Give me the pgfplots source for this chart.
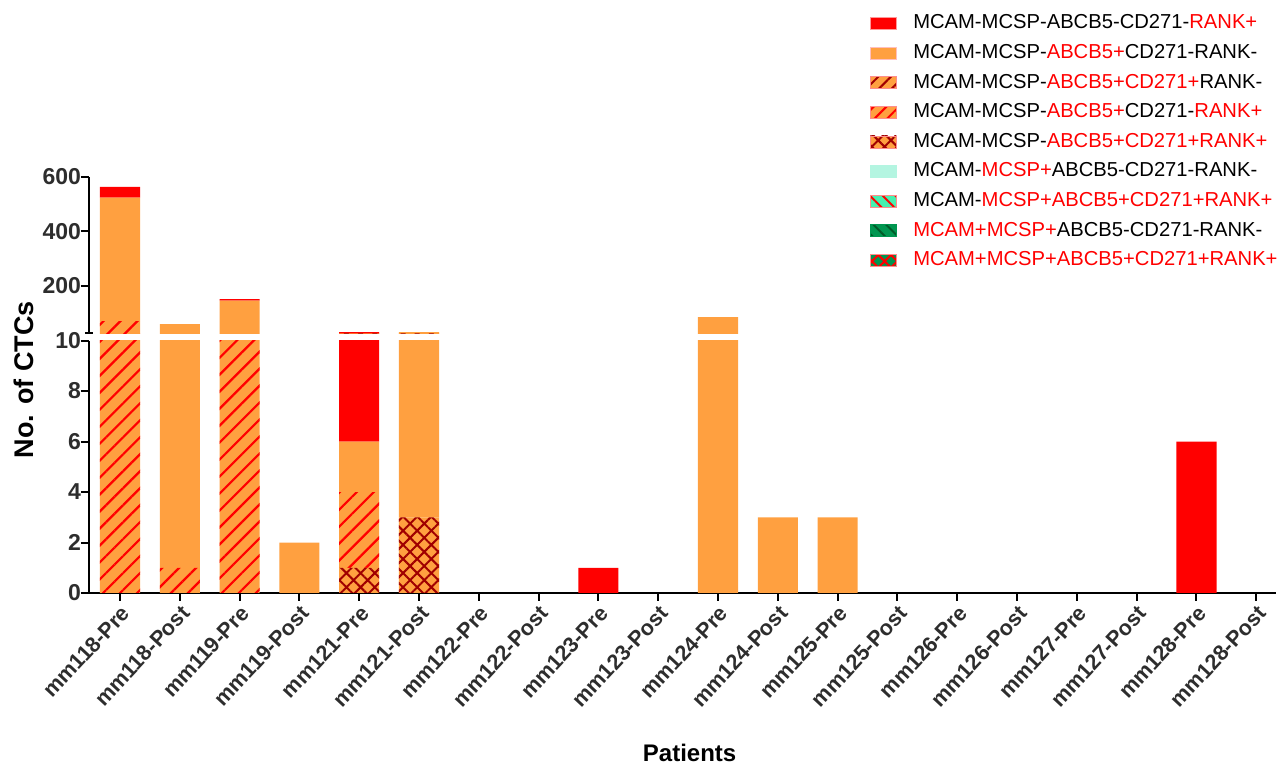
\documentclass[border=0pt]{standalone}
\usepackage{pgfplots}
\usepackage{pgfplotstable}
\pgfplotsset{compat=1.18}
\usetikzlibrary{patterns.meta}
\usepackage{fontspec}
\setmainfont{Liberation Sans}

\definecolor{cOrange}{RGB}{255,160,64}
\definecolor{cRed}{RGB}{255,0,0}
\definecolor{cDark}{RGB}{160,0,0}
\definecolor{cMint}{RGB}{180,245,225}
\definecolor{cMint2}{RGB}{70,240,175}
\definecolor{cGreen}{RGB}{0,150,80}
\definecolor{cGreenDk}{RGB}{0,90,40}
\definecolor{tickgray}{RGB}{45,45,45}

% stacked counts per sample (bottom to top)
\pgfplotstableread{
x cross hatch orange red
0  0 70 453 40
1  0  1  58  0
2  0 20 125  5
3  0  0   2  0
4  1  3   2 23
5  3  0  26  0
6  0  0   0  0
7  0  0   0  0
8  0  0   0  1
9  0  0   0  0
10 0  0  84  0
11 0  0   3  0
12 0  0   3  0
13 0  0   0  0
14 0  0   0  0
15 0  0   0  0
16 0  0   0  0
17 0  0   0  0
18 0  0   0  6
19 0  0   0  0
}\ctcdata

\pgfplotsset{
  redhatch/.style={fill=cOrange,draw=none,postaction={pattern={Lines[angle=45,distance=6pt,line width=1.1pt]},pattern color=cRed}},
  crosshatch/.style={fill=cOrange,draw=none,postaction={pattern={Hatch[angle=45,distance=5pt,line width=1pt]},pattern color=cDark}},
  common/.style={
    scale only axis, width=593.5pt,
    xmin=-0.518, xmax=19.33,
    ybar stacked, bar width=0.67,
    tick style={line width=1pt,black},
    tick align=outside, major tick length=4pt,
    axis line style={line width=1pt},
    /pgf/number format/assume math mode=true,
    yticklabel style={font=\bfseries\fontsize{11.5}{11.5}\selectfont,text=tickgray,xshift=3.5pt},
  },
}

\newcommand{\ctcbars}{%
  \addplot[crosshatch,forget plot] table[x=x,y=cross]{\ctcdata};
  \addplot[redhatch,forget plot] table[x=x,y=hatch]{\ctcdata};
  \addplot[fill=cOrange,draw=none,forget plot] table[x=x,y=orange]{\ctcdata};
  \addplot[fill=cRed,draw=none,forget plot] table[x=x,y=red]{\ctcdata};
}

\begin{document}
\begin{tikzpicture}[x=1pt,y=1pt]
\path[use as bounding box] (0,0) rectangle (639,382);

% lower segment 0-10
\begin{axis}[common,
  at={(44.5pt,85.5pt)}, anchor=south west, height=126.2pt,
  ymin=0, ymax=10,
  axis lines*=left,
  ytick={0,2,...,10},
  xtick={0,...,19},
  xticklabels={mm118-Pre,mm118-Post,mm119-Pre,mm119-Post,mm121-Pre,mm121-Post,mm122-Pre,mm122-Post,mm123-Pre,mm123-Post,mm124-Pre,mm124-Post,mm125-Pre,mm125-Post,mm126-Pre,mm126-Post,mm127-Pre,mm127-Post,mm128-Pre,mm128-Post},
  xticklabel style={rotate=47,anchor=north east,inner sep=1pt,font=\bfseries\fontsize{10.8}{10.8}\selectfont,text=tickgray},
  xlabel={Patients},
  xlabel style={at={(axis description cs:0.506,-0.634)},anchor=center,font=\bfseries\fontsize{12}{12}\selectfont},
  ylabel={No. of CTCs},
  ylabel style={at={(axis description cs:-0.0548,0.844)},anchor=center,font=\bfseries\fontsize{13.5}{13.5}\selectfont},
]
\ctcbars
\end{axis}

% upper segment 25-600
\begin{axis}[common,
  at={(44.5pt,215.35pt)}, anchor=south west, height=78.3pt,
  ymin=25, ymax=600,
  axis x line=none, axis y line*=left,
  xtick=\empty,
  ytick={200,400,600},
  extra y ticks={25}, extra y tick labels={},
  extra y tick style={tick align=center},
  legend cell align=left,
  legend image code/.code={\draw[#1] (0pt,-3pt) rectangle (13pt,3pt);},
  legend style={at={(axis description cs:0.657,2.042)},anchor=north west,
    draw=none,fill=none,inner sep=0pt,row sep=5.3pt,
    font=\fontsize{10.1}{12}\selectfont,
    nodes={inner sep=0pt,text height=7.5pt,text depth=2pt},
    /tikz/every odd column/.append style={column sep=8pt}},
]
\addlegendimage{fill=cRed,draw=red!40,line width=0.3pt}
\addlegendentry{MCAM-MCSP-ABCB5-CD271-\textcolor{cRed}{RANK+}}
\addlegendimage{fill=cOrange,draw=red!25,line width=0.3pt}
\addlegendentry{MCAM-MCSP-\textcolor{cRed}{ABCB5+}CD271-RANK-}
\addlegendimage{fill=cOrange,draw=red!45,line width=0.3pt,postaction={pattern={Lines[angle=45,distance=4.5pt,line width=1pt]},pattern color=cDark}}
\addlegendentry{MCAM-MCSP-\textcolor{cRed}{ABCB5+CD271+}RANK-}
\addlegendimage{fill=cOrange,draw=red!45,line width=0.3pt,postaction={pattern={Lines[angle=45,distance=4.5pt,line width=1pt]},pattern color=cRed}}
\addlegendentry{MCAM-MCSP-\textcolor{cRed}{ABCB5+}CD271-\textcolor{cRed}{RANK+}}
\addlegendimage{fill=cOrange,draw=red!45,line width=0.3pt,postaction={pattern={Hatch[angle=45,distance=4.5pt,line width=1pt]},pattern color=cDark}}
\addlegendentry{MCAM-MCSP-\textcolor{cRed}{ABCB5+CD271+RANK+}}
\addlegendimage{fill=cMint,draw=cMint,line width=0.3pt}
\addlegendentry{MCAM-\textcolor{cRed}{MCSP+}ABCB5-CD271-RANK-}
\addlegendimage{fill=cMint2,draw=red!45,line width=0.3pt,postaction={pattern={Lines[angle=-45,distance=4.5pt,line width=1pt]},pattern color=cRed}}
\addlegendentry{MCAM-\textcolor{cRed}{MCSP+ABCB5+CD271+RANK+}}
\addlegendimage{fill=cGreen,draw=cGreen,line width=0.3pt,postaction={pattern={Lines[angle=-45,distance=4.5pt,line width=1pt]},pattern color=cGreenDk}}
\addlegendentry{\textcolor{cRed}{MCAM+MCSP+}ABCB5-CD271-RANK-}
\addlegendimage{fill=cGreen,draw=red!45,line width=0.3pt,postaction={pattern={Hatch[angle=45,distance=4.5pt,line width=1pt]},pattern color=cRed}}
\addlegendentry{\textcolor{cRed}{MCAM+MCSP+ABCB5+CD271+RANK+}}
\ctcbars
\end{axis}
\end{tikzpicture}
\end{document}
